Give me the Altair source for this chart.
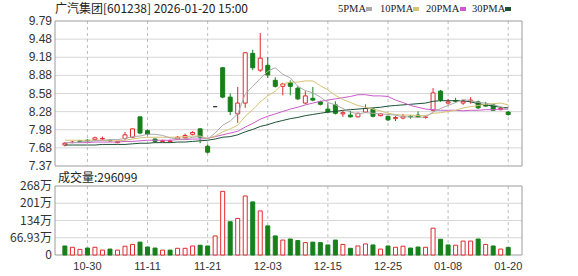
import altair as alt
import pandas as pd

# ---------------- data ----------------
dates = ["10-27", "10-28", "10-29", "10-30", "10-31", "11-03", "11-04", "11-05", "11-06", "11-07",
         "11-10", "11-11", "11-12", "11-13", "11-14", "11-17", "11-18", "11-19", "11-20", "11-21",
         "11-24", "11-25", "11-26", "11-27", "11-28", "12-01", "12-02", "12-03", "12-04", "12-05",
         "12-08", "12-09", "12-10", "12-11", "12-12", "12-15", "12-16", "12-17", "12-18", "12-19",
         "12-22", "12-23", "12-24", "12-25", "12-26", "12-29", "12-30", "12-31", "01-05", "01-06",
         "01-07", "01-08", "01-09", "01-12", "01-13", "01-14", "01-15", "01-16", "01-19", "01-20"]

opens = [7.72, 7.76, 7.79, 7.80, 7.81, 7.82, 7.80, 7.76, 7.83, 7.85,
         8.19, 7.96, 7.82, 7.78, 7.78, 7.82, 7.84, 7.90, 7.99, 7.70,
         8.36, 9.01, 8.52, 8.24, 8.42, 9.25, 8.97, 9.05, 8.80, 8.70,
         8.76, 8.67, 8.42, 8.50, 8.44, 8.32, 8.39, 8.24, 8.22, 8.19,
         8.27, 8.32, 8.21, 8.20, 8.16, 8.17, 8.20, 8.22, 8.18, 8.30,
         8.62, 8.42, 8.46, 8.42, 8.46, 8.44, 8.40, 8.39, 8.31, 8.27]
highs = [7.77, 7.79, 7.80, 7.82, 7.86, 7.86, 7.81, 7.79, 7.94, 8.00,
         8.20, 7.98, 7.83, 7.81, 7.81, 7.87, 7.91, 7.95, 8.00, 7.73,
         8.36, 9.02, 8.58, 8.69, 9.27, 9.31, 9.59, 9.19, 8.85, 8.76,
         8.80, 8.70, 8.62, 8.69, 8.46, 8.42, 8.45, 8.29, 8.29, 8.26,
         8.40, 8.34, 8.25, 8.21, 8.21, 8.24, 8.22, 8.28, 8.21, 8.67,
         8.64, 8.49, 8.51, 8.46, 8.52, 8.46, 8.44, 8.41, 8.35, 8.29]
lows = [7.70, 7.75, 7.76, 7.77, 7.79, 7.80, 7.77, 7.75, 7.80, 7.84,
        7.90, 7.88, 7.76, 7.77, 7.77, 7.81, 7.82, 7.88, 7.75, 7.58,
        8.36, 8.50, 8.22, 8.09, 8.34, 8.97, 8.94, 8.84, 8.68, 8.55,
        8.55, 8.47, 8.40, 8.45, 8.38, 8.26, 8.23, 8.19, 8.18, 8.18,
        8.26, 8.18, 8.20, 8.12, 8.12, 8.15, 8.16, 8.17, 8.16, 8.28,
        8.44, 8.39, 8.43, 8.39, 8.41, 8.32, 8.36, 8.30, 8.30, 8.21]
closes = [7.75, 7.77, 7.78, 7.79, 7.84, 7.83, 7.79, 7.78, 7.89, 7.99,
          7.92, 7.90, 7.78, 7.79, 7.79, 7.85, 7.88, 7.93, 7.85, 7.60,
          8.36, 8.52, 8.28, 8.42, 9.26, 9.01, 9.17, 8.89, 8.70, 8.74,
          8.70, 8.49, 8.54, 8.47, 8.40, 8.27, 8.25, 8.26, 8.19, 8.25,
          8.33, 8.20, 8.24, 8.14, 8.18, 8.20, 8.19, 8.19, 8.19, 8.59,
          8.47, 8.44, 8.45, 8.45, 8.47, 8.34, 8.37, 8.30, 8.33, 8.23]

# volume in 万
volumes = [35, 30, 22, 27, 30, 19, 23, 19, 34, 41,
           50, 31, 27, 19, 19, 26, 26, 35, 38, 35,
           74, 247, 129, 142, 229, 206, 171, 113, 74, 58,
           62, 56, 48, 50, 48, 39, 58, 41, 26, 35,
           43, 39, 23, 35, 30, 34, 27, 31, 30, 104,
           61, 39, 38, 54, 54, 62, 41, 35, 23, 29.6]
vol_dir = ["down", "up", "up", "down", "up", "up", "down", "up", "up", "up",
           "down", "down", "down", "up", "down", "up", "up", "up", "down", "down",
           "up", "up", "down", "up", "up", "down", "up", "down", "down", "up",
           "down", "down", "up", "down", "down", "down", "down", "up", "down", "up",
           "up", "down", "up", "down", "up", "up", "down", "down", "up", "up",
           "down", "down", "up", "up", "up", "down", "up", "down", "up", "down"]

ma5 = [7.76, 7.76, 7.77, 7.78, 7.79, 7.80, 7.81, 7.81, 7.83, 7.86,
       7.87, 7.90, 7.90, 7.88, 7.84, 7.82, 7.82, 7.85, 7.86, 7.82,
       7.92, 8.05, 8.12, 8.24, 8.57, 8.70, 8.83, 8.95, 9.01, 8.90,
       8.84, 8.70, 8.63, 8.59, 8.52, 8.43, 8.39, 8.33, 8.27, 8.24,
       8.26, 8.25, 8.24, 8.23, 8.22, 8.19, 8.19, 8.18, 8.19, 8.27,
       8.33, 8.38, 8.43, 8.48, 8.46, 8.43, 8.42, 8.39, 8.36, 8.31]
ma10 = [7.80, 7.80, 7.80, 7.80, 7.80, 7.80, 7.79, 7.79, 7.80, 7.82,
        7.84, 7.85, 7.85, 7.85, 7.85, 7.85, 7.86, 7.87, 7.87, 7.83,
        7.87, 7.94, 7.99, 8.05, 8.20, 8.31, 8.44, 8.54, 8.62, 8.74,
        8.77, 8.77, 8.79, 8.79, 8.71, 8.64, 8.55, 8.48, 8.43, 8.38,
        8.35, 8.32, 8.29, 8.25, 8.23, 8.22, 8.22, 8.21, 8.21, 8.25,
        8.26, 8.28, 8.30, 8.34, 8.36, 8.38, 8.40, 8.41, 8.42, 8.39]
ma20 = [7.76, 7.76, 7.76, 7.76, 7.77, 7.77, 7.77, 7.77, 7.78, 7.78,
        7.79, 7.80, 7.80, 7.80, 7.80, 7.81, 7.81, 7.82, 7.82, 7.83,
        7.86, 7.89, 7.92, 7.95, 8.02, 8.08, 8.15, 8.20, 8.24, 8.28,
        8.32, 8.35, 8.39, 8.42, 8.45, 8.47, 8.49, 8.51, 8.53, 8.56,
        8.56, 8.54, 8.54, 8.53, 8.47, 8.43, 8.38, 8.35, 8.32, 8.31,
        8.30, 8.30, 8.30, 8.29, 8.30, 8.30, 8.31, 8.31, 8.32, 8.32]
ma30 = [7.72, 7.72, 7.72, 7.72, 7.72, 7.73, 7.73, 7.73, 7.73, 7.74,
        7.75, 7.75, 7.76, 7.76, 7.76, 7.77, 7.77, 7.78, 7.79, 7.80,
        7.82, 7.85, 7.86, 7.89, 7.94, 7.98, 8.03, 8.06, 8.10, 8.13,
        8.16, 8.18, 8.21, 8.23, 8.25, 8.27, 8.28, 8.30, 8.31, 8.32,
        8.33, 8.34, 8.35, 8.37, 8.38, 8.39, 8.40, 8.41, 8.42, 8.45,
        8.46, 8.46, 8.46, 8.46, 8.44, 8.41, 8.39, 8.37, 8.35, 8.34]

price_ticks = [7.37, 7.6725, 7.975, 8.2775, 8.58, 8.8825, 9.185, 9.4875, 9.79]
price_labels = ["7.37", "7.68", "7.98", "8.28", "8.58", "8.88", "9.18", "9.48", "9.79"]
vol_ticks = [0, 66.93, 133.86, 200.79, 267.72]
vol_labels = ["0", "66.93万", "134万", "201万", "268万"]
label_idx = [3, 11, 19, 27, 35, 43, 51, 59]

ma_names = ["5PMA", "10PMA", "20PMA", "30PMA"]
title_text = "广汽集团[601238] 2026-01-20 15:00"
volume_text = "成交量:296099"

# ---------------- chart ----------------
df = pd.DataFrame({
    "i": list(range(len(dates))), "date": dates,
    "open": opens, "high": highs, "low": lows, "close": closes,
    "vol": volumes, "vdir": vol_dir,
    "ma5": ma5, "ma10": ma10, "ma20": ma20, "ma30": ma30,
})
df["dir"] = ["up" if c > o else ("down" if c < o else "flat") for o, c in zip(opens, closes)]
df["zero"] = 0.0

W, H = 467, 234
P_TOP, P_BOT = 0, 145
V_TOP, V_BOT = 165, 234

RED, GREEN = "#e2282d", "#17801a"
MA_COLORS = ["#ababab", "#d6c272", "#cc5acc", "#1d5235"]
GRID = "#d6d6d6"
BORDER = "#9c9c9c"
TXT = "#333333"

xs = alt.Scale(domain=[-0.65, 60.17], nice=False, zero=False)
ps = alt.Scale(domain=[7.37, 9.79], range=[P_BOT, P_TOP], nice=False, zero=False)
vs = alt.Scale(domain=[0, 267.72], range=[V_BOT, V_TOP], nice=False, zero=False)
dir_dom = ["up", "down", "flat"]
fill_scale = alt.Scale(domain=dir_dom, range=["#ffffff", GREEN, "#333333"])
stroke_scale = alt.Scale(domain=dir_dom, range=[RED, GREEN, "#333333"])

X = alt.X("i:Q", scale=xs, axis=None)
base = alt.Chart(df)
one = pd.DataFrame({"k": [0]})

layers = []

# horizontal grid lines
layers.append(alt.Chart(pd.DataFrame({"v": price_ticks[1:-1]})).mark_rule(color=GRID, strokeWidth=1)
              .encode(y=alt.Y("v:Q", scale=ps, axis=None)))
layers.append(alt.Chart(pd.DataFrame({"v": vol_ticks[1:-1]})).mark_rule(color=GRID, strokeWidth=1)
              .encode(y=alt.Y("v:Q", scale=vs, axis=None)))
# vertical dashed grid lines
vg = alt.Chart(pd.DataFrame({"i": label_idx}))
layers.append(vg.mark_rule(color="#bdbdbd", strokeDash=[3, 3], strokeWidth=1)
              .encode(x=X, y=alt.value(P_TOP), y2=alt.value(P_BOT)))
layers.append(vg.mark_rule(color="#bdbdbd", strokeDash=[3, 3], strokeWidth=1)
              .encode(x=X, y=alt.value(V_TOP), y2=alt.value(V_BOT)))
# panel borders
for t, b in [(P_TOP, P_BOT), (V_TOP, V_BOT)]:
    layers.append(alt.Chart(one).mark_rect(fillOpacity=0, stroke=BORDER, strokeWidth=1)
                  .encode(x=alt.value(0), x2=alt.value(W), y=alt.value(t), y2=alt.value(b)))

# volume bars
layers.append(base.mark_bar(size=4, strokeWidth=1).encode(
    x=X,
    y=alt.Y("vol:Q", scale=vs, axis=None), y2="zero:Q",
    fill=alt.Fill("vdir:N", scale=fill_scale, legend=None),
    stroke=alt.Stroke("vdir:N", scale=stroke_scale, legend=None)))

# candle wicks and bodies
layers.append(base.mark_rule(strokeWidth=1).encode(
    x=X,
    y=alt.Y("low:Q", scale=ps, axis=None), y2="high:Q",
    stroke=alt.Stroke("dir:N", scale=stroke_scale, legend=None)))
layers.append(base.mark_bar(size=4, strokeWidth=1).encode(
    x=X,
    y=alt.Y("open:Q", scale=ps, axis=None), y2="close:Q",
    fill=alt.Fill("dir:N", scale=fill_scale, legend=None),
    stroke=alt.Stroke("dir:N", scale=stroke_scale, legend=None)))

# moving averages
for col, c in zip(["ma30", "ma20", "ma10", "ma5"], MA_COLORS[::-1]):
    layers.append(base.mark_line(strokeWidth=1, color=c)
                  .encode(x=X, y=alt.Y(f"{col}:Q", scale=ps, axis=None)))

# y-axis labels
layers.append(alt.Chart(pd.DataFrame({"v": price_ticks, "t": price_labels}))
              .mark_text(align="right", baseline="middle", fontSize=12, font="Liberation Sans", color=TXT)
              .encode(x=alt.value(-3), y=alt.Y("v:Q", scale=ps, axis=None), text="t:N"))
layers.append(alt.Chart(pd.DataFrame({"v": vol_ticks, "t": vol_labels}))
              .mark_text(align="right", baseline="middle", fontSize=12, font="Noto Sans CJK SC", color=TXT)
              .encode(x=alt.value(-3), y=alt.Y("v:Q", scale=vs, axis=None), text="t:N"))

# x-axis labels
layers.append(base.transform_filter(alt.FieldOneOfPredicate(field="i", oneOf=label_idx))
              .mark_text(align="center", baseline="middle", fontSize=11, font="Liberation Sans", color=TXT)
              .encode(x=X, y=alt.value(246), text="date:N"))

# header and volume caption
layers.append(alt.Chart(pd.DataFrame({"t": [title_text]}))
              .mark_text(align="left", baseline="middle", fontSize=12, font="Noto Sans CJK SC", color="#222222")
              .encode(x=alt.value(0), y=alt.value(-12), text="t:N"))
layers.append(alt.Chart(pd.DataFrame({"t": [volume_text]}))
              .mark_text(align="left", baseline="middle", fontSize=12, font="Noto Sans CJK SC", color="#222222")
              .encode(x=alt.value(3), y=alt.value(157), text="t:N"))

# custom legend
leg_text_x = [283, 325, 371, 417]
leg_sw_x = [311, 358, 405, 450]
for name, c, tx, sx in zip(ma_names, MA_COLORS, leg_text_x, leg_sw_x):
    layers.append(alt.Chart(pd.DataFrame({"t": [name]}))
                  .mark_text(align="left", baseline="middle", fontSize=10.5, font="Liberation Serif", color="#222222")
                  .encode(x=alt.value(tx), y=alt.value(-12), text="t:N"))
    layers.append(alt.Chart(one).mark_rect(color=c)
                  .encode(x=alt.value(sx), x2=alt.value(sx + 6), y=alt.value(-14), y2=alt.value(-10)))

chart = (alt.layer(*layers)
         .resolve_scale(y="independent")
         .properties(width=W, height=H,
                     autosize=alt.AutoSizeParams(type="none"),
                     padding={"left": 55, "top": 21, "right": 56, "bottom": 21})
         .configure_view(stroke=None))

chart.save("out.html", embed_options={"renderer": "svg", "actions": False})
